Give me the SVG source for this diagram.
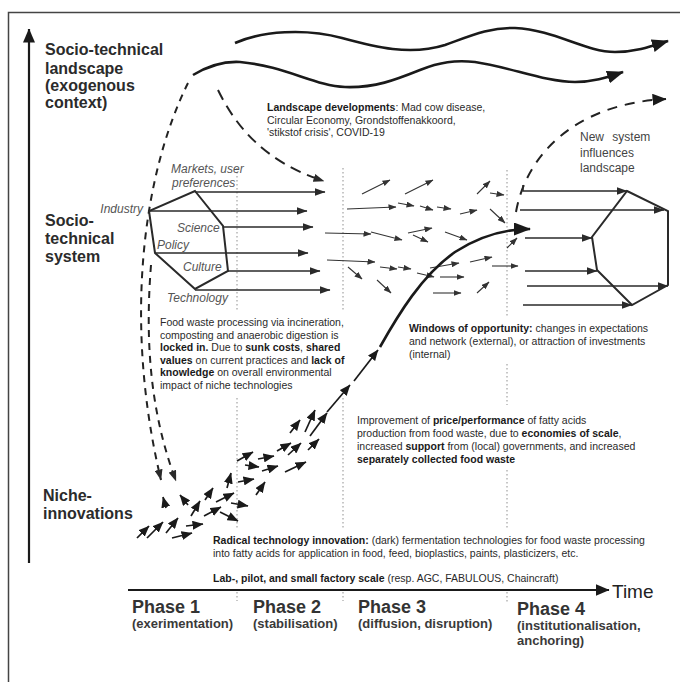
<svg xmlns="http://www.w3.org/2000/svg" width="680" height="682" viewBox="0 0 680 682">
  <defs>
    <marker id="hs" markerUnits="userSpaceOnUse" markerWidth="8" markerHeight="6" refX="7.5" refY="3" orient="auto">
      <path d="M0,0 L8,3 L0,6 z" fill="#333"/>
    </marker>
    <marker id="hm" markerUnits="userSpaceOnUse" markerWidth="11" markerHeight="8" refX="10.5" refY="4" orient="auto">
      <path d="M0,0 L11,4 L0,8 z" fill="#2a2a2a"/>
    </marker>
    <marker id="hn" markerUnits="userSpaceOnUse" markerWidth="11" markerHeight="9" refX="10.5" refY="4.5" orient="auto">
      <path d="M0,0 L11,4.5 L0,9 z" fill="#1a1a1a"/>
    </marker>
    <marker id="hb" markerUnits="userSpaceOnUse" markerWidth="17" markerHeight="13" refX="16" refY="6.5" orient="auto">
      <path d="M0,0 L17,6.5 L0,13 z" fill="#1a1a1a"/>
    </marker>
    <marker id="ht" markerUnits="userSpaceOnUse" markerWidth="14" markerHeight="12" refX="13.5" refY="6" orient="auto">
      <path d="M0,0 L14,6 L0,12 z" fill="#1a1a1a"/>
    </marker>
  </defs>
  <style>
    text { font-family: "Liberation Sans", Arial, sans-serif; fill: #222; }
    .head { font-size: 16px; font-weight: bold; fill: #2b2b2b; }
    .body { font-size: 10.5px; fill: #2a2a2a; }
    .b { font-weight: bold; fill: #1a1a1a; }
    .lab { font-size: 12px; font-style: italic; fill: #555; }
    .note { font-size: 12px; fill: #444; }
    .phase { font-size: 18px; font-weight: bold; fill: #333; }
    .sub { font-size: 13px; font-weight: bold; fill: #3a3a3a; }
    .frame { stroke: #444; stroke-width: 1.5; fill: none; }
    .dot { stroke: #aaa; stroke-width: 1.3; stroke-dasharray: 1.5 2.5; fill: none; }
    .wave { stroke: #1a1a1a; stroke-width: 2.6; fill: none; }
    .dash { stroke: #222; stroke-width: 2; fill: none; }
    .sys { stroke: #2a2a2a; stroke-width: 1.5; fill: none; }
    .thin { stroke: #333; stroke-width: 1.1; fill: none; marker-end: url(#hs); }
    .niche { stroke: #1a1a1a; stroke-width: 1.7; fill: none; marker-end: url(#hn); }
    .poly { stroke: #2a2a2a; stroke-width: 2; fill: none; stroke-linejoin: miter; }
  </style>

  <!-- outer frame (top and left edges) -->
  <path class="frame" d="M8.5,682 L8.5,12.5 L680,12.5"/>

  <!-- phase separators -->
  <g id="phase-lines">
    <path class="dot" d="M237,168 V312 M237,398 V530 M237,592 V601"/>
    <path class="dot" d="M343,168 V312 M343,398 V530 M343,592 V601"/>
    <path class="dot" d="M507,170 V318 M507,364 V405 M507,470 V530 M507,592 V603"/>
  </g>

  <!-- axes -->
  <g id="axes">
    <path d="M29,563 V29" stroke="#1a1a1a" stroke-width="2.2" fill="none" marker-end="url(#ht)"/>
    <path d="M128,590 H609" stroke="#1a1a1a" stroke-width="2.2" fill="none" marker-end="url(#ht)"/>
    <text x="612" y="598" style="font-size:19px;fill:#222">Time</text>
  </g>

  <!-- level labels -->
  <g id="label-landscape">
    <text class="head" x="45" y="55">Socio-technical</text>
    <text class="head" x="45" y="74">landscape</text>
    <text class="head" x="45" y="91">(exogenous</text>
    <text class="head" x="45" y="108">context)</text>
  </g>
  <g id="label-system">
    <text class="head" x="45" y="226">Socio-</text>
    <text class="head" x="45" y="244">technical</text>
    <text class="head" x="45" y="262">system</text>
  </g>
  <g id="label-niche">
    <text class="head" x="43" y="501">Niche-</text>
    <text class="head" x="43" y="519">innovations</text>
  </g>

  <g id="connectors">
    <!-- landscape trends -->
    <path class="wave" d="M235,43 C262,31 305,28 342,38 C375,47 410,56 445,45 C470,36 490,27 515,28 C555,30 585,52 615,52 C638,52 655,45 668,41" marker-end="url(#hb)"/>
    <path class="wave" d="M193,75 C208,66 222,61 240,62 C285,66 315,86 345,87 C375,88 395,80 420,70 C440,62 455,60 475,62 C510,67 545,82 575,82 C595,82 608,77 623,72" marker-end="url(#hb)"/>

    <!-- landscape pressure on the regime -->
    <path class="dash" stroke-dasharray="11 7" d="M218,90 C235,125 264,162 324,181" marker-end="url(#hm)"/>
    <!-- landscape pressure down to niches -->
    <path class="dash" stroke-width="1.8" stroke-dasharray="7 6" d="M188,83 C140,180 125,330 161,480" marker-end="url(#hm)"/>
    <path class="dash" stroke-width="1.8" stroke-dasharray="7 6" d="M151,265 C145,340 150,412 176,481" marker-end="url(#hm)"/>
    <!-- new system feeding back to landscape -->
    <path class="dash" stroke-dasharray="10 8" d="M516,212 C525,160 570,104 666,99" marker-end="url(#ht)"/>

    <!-- current regime dimensions -->
    <path class="sys" marker-end="url(#hm)" d="M195,192 H325"/>
    <path class="sys" marker-end="url(#hm)" d="M149,211 H307"/>
    <path class="sys" marker-end="url(#hm)" d="M223,227 H313"/>
    <path class="sys" marker-end="url(#hm)" d="M155,253 H308"/>
    <path class="sys" marker-end="url(#hm)" d="M228,271 H320"/>
    <path class="sys" marker-end="url(#hm)" d="M195,290 H330"/>

    <!-- destabilised regime, phase 3 -->
    <path class="thin" d="M362,194 L390,180"/>
    <path class="thin" d="M405,194 L433,180"/>
    <path class="thin" d="M477,194 L490,181"/>
    <path class="thin" d="M490,193 L504,195"/>
    <path class="thin" d="M347,209 L396,207"/>
    <path class="thin" d="M398,203 L414,206"/>
    <path class="thin" d="M420,206 L433,210"/>
    <path class="thin" d="M437,207 L451,209"/>
    <path class="thin" d="M460,214 L477,210"/>
    <path class="thin" d="M490,209 L505,223"/>
    <path class="thin" d="M325,233 L371,234"/>
    <path class="thin" d="M371,232 L402,240"/>
    <path class="thin" d="M408,233 L432,228"/>
    <path class="thin" d="M413,235 L428,242"/>
    <path class="thin" d="M445,232 L467,240"/>
    <path class="thin" d="M507,248 L517,238"/>
    <path class="thin" d="M327,260 L375,262"/>
    <path class="thin" d="M348,267 L362,279"/>
    <path class="thin" d="M380,267 L397,269"/>
    <path class="thin" d="M398,267 L411,269"/>
    <path class="thin" d="M430,268 L459,263"/>
    <path class="thin" d="M470,262 L492,257"/>
    <path class="thin" d="M492,266 L518,266"/>
    <path class="thin" d="M417,273 L434,277"/>
    <path class="thin" d="M440,277 L464,277"/>
    <path class="thin" d="M377,280 L391,293"/>
    <path class="thin" d="M433,293 L461,293"/>
    <path class="thin" d="M477,293 L489,282"/>

    <!-- new regime dimensions -->
    <path class="sys" marker-end="url(#hm)" d="M523,185 V191 H627"/>
    <path class="sys" marker-end="url(#hm)" d="M520,210 H664"/>
    <path class="sys" marker-end="url(#hm)" d="M525,238 H592"/>
    <path class="sys" marker-end="url(#hm)" d="M525,271 H597"/>
    <path class="sys" marker-end="url(#hm)" d="M527,286 H668"/>
    <path class="sys" marker-end="url(#hm)" d="M523,305 H632"/>

    <!-- niche experiments -->
    <path class="niche" d="M137,538 L149,526"/>
    <path class="niche" d="M147,538 L163,522"/>
    <path class="niche" d="M166,533 L178,518"/>
    <path class="niche" d="M172,538 L192,533"/>
    <path class="niche" d="M186,526 L203,524"/>
    <path class="niche" d="M191,516 L200,501"/>
    <path class="niche" d="M204,516 L221,507"/>
    <path class="niche" d="M205,500 L213,488"/>
    <path class="niche" d="M216,502 L234,493"/>
    <path class="niche" d="M227,488 L231,473"/>
    <path class="niche" d="M220,512 L238,521"/>
    <path class="niche" d="M231,503 L248,506"/>
    <path class="niche" d="M166,508 L163,497"/>
    <path class="niche" d="M188,505 L180,495"/>
    <path class="niche" d="M238,482 L254,479"/>
    <path class="niche" d="M237,461 L253,452"/>
    <path class="niche" d="M245,465 L259,467"/>
    <path class="niche" d="M258,459 L274,456"/>
    <path class="niche" d="M262,471 L278,466"/>
    <path class="niche" d="M256,495 L265,482"/>
    <path class="niche" d="M285,472 L306,462"/>
    <path class="niche" d="M277,451 L291,443"/>
    <path class="niche" d="M288,455 L301,443"/>
    <path class="niche" d="M308,450 L319,439"/>
    <path class="niche" d="M290,433 L300,420"/>
    <path class="niche" d="M305,432 L315,410"/>
    <path class="niche" d="M310,436 L327,413"/>

    <!-- niche breakthrough trajectory -->
    <path class="niche" stroke-width="2.2" d="M327,412 L350,385"/>
    <path class="niche" stroke-width="2.2" d="M354,381 L378,350"/>
    <path class="wave" stroke-width="2.8" d="M380,347 C398,315 422,275 455,252 C480,236 505,229 530,229" marker-end="url(#hb)"/>
  </g>

  <!-- regime configurations -->
  <g id="regime-current">
    <path class="poly" d="M195,191 L223,226 L228,271 L195,289 L155,253 L149,211 Z"/>
    <text class="lab" x="171" y="173">Markets, user</text>
    <text class="lab" x="172" y="187">preferences</text>
    <text class="lab" x="143" y="213" text-anchor="end">Industry</text>
    <text class="lab" x="177" y="232">Science</text>
    <text class="lab" x="157" y="249">Policy</text>
    <text class="lab" x="183" y="271">Culture</text>
    <text class="lab" x="167" y="302">Technology</text>
  </g>
  <g id="regime-new">
    <path class="poly" stroke-width="1.8" d="M627,191 L668,211 L668,285 L632,305 L597,270 L592,237 Z"/>
  </g>

  <!-- annotations -->
  <g id="note-landscape">
    <text class="body" x="267" y="111"><tspan class="b">Landscape developments</tspan>: Mad cow disease,</text>
    <text class="body" x="267" y="124">Circular Economy, Grondstoffenakkoord,</text>
    <text class="body" x="267" y="136">'stikstof crisis', COVID-19</text>
  </g>
  <g id="note-new-system">
    <text class="note" x="580" y="141" word-spacing="5">New system</text>
    <text class="note" x="580" y="157">influences</text>
    <text class="note" x="580" y="172">landscape</text>
  </g>
  <g id="note-lockin">
    <text class="body" x="160" y="326">Food waste processing via incineration,</text>
    <text class="body" x="160" y="338.5">composting and anaerobic digestion is</text>
    <text class="body" x="160" y="351"><tspan class="b">locked in.</tspan> Due to <tspan class="b">sunk costs</tspan>, <tspan class="b">shared</tspan></text>
    <text class="body" x="160" y="363.5"><tspan class="b">values</tspan> on current practices and <tspan class="b">lack of</tspan></text>
    <text class="body" x="160" y="376"><tspan class="b">knowledge</tspan> on overall environmental</text>
    <text class="body" x="160" y="388.5">impact of niche technologies</text>
  </g>
  <g id="note-windows">
    <text class="body" x="409" y="332"><tspan class="b">Windows of opportunity:</tspan> changes in expectations</text>
    <text class="body" x="409" y="345">and network (external), or attraction of investments</text>
    <text class="body" x="409" y="358">(internal)</text>
  </g>
  <g id="note-improvement">
    <text class="body" x="357" y="424">Improvement of <tspan class="b">price/performance</tspan> of fatty acids</text>
    <text class="body" x="357" y="437">production from food waste, due to <tspan class="b">economies of scale</tspan>,</text>
    <text class="body" x="357" y="450">increased <tspan class="b">support</tspan> from (local) governments, and increased</text>
    <text class="body" x="357" y="463"><tspan class="b">separately collected food waste</tspan></text>
  </g>
  <g id="note-radical">
    <text class="body" x="213" y="544"><tspan class="b">Radical technology innovation:</tspan> (dark) fermentation technologies for food waste processing</text>
    <text class="body" x="213" y="557">into fatty acids for application in food, feed, bioplastics, paints, plasticizers, etc.</text>
  </g>
  <g id="note-scale">
    <text class="body" x="213" y="582"><tspan class="b">Lab-, pilot, and small factory scale</tspan> (resp. AGC, FABULOUS, Chaincraft)</text>
  </g>

  <!-- phases -->
  <g id="phase-1">
    <text class="phase" x="132" y="613">Phase 1</text>
    <text class="sub" x="132" y="628">(exerimentation)</text>
  </g>
  <g id="phase-2">
    <text class="phase" x="253" y="613">Phase 2</text>
    <text class="sub" x="253" y="628">(stabilisation)</text>
  </g>
  <g id="phase-3">
    <text class="phase" x="358" y="613">Phase 3</text>
    <text class="sub" x="358" y="628">(diffusion, disruption)</text>
  </g>
  <g id="phase-4">
    <text class="phase" x="517" y="615">Phase 4</text>
    <text class="sub" x="517" y="630">(institutionalisation,</text>
    <text class="sub" x="517" y="645">anchoring)</text>
  </g>
</svg>
